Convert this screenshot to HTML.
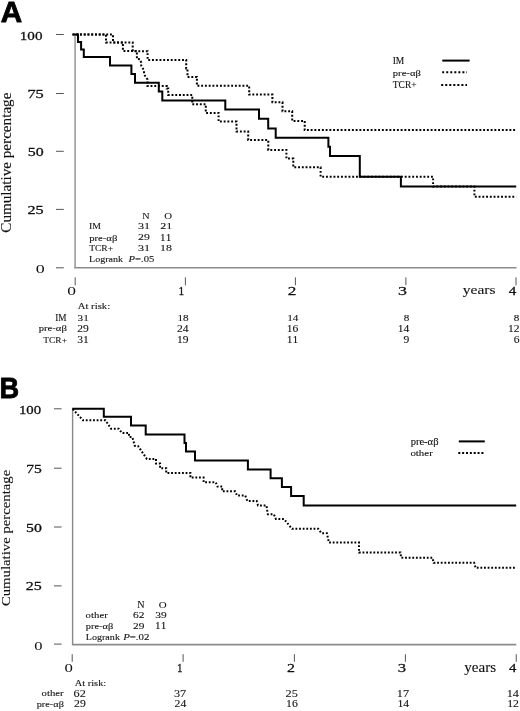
<!DOCTYPE html>
<html><head><meta charset="utf-8"><style>
html,body{margin:0;padding:0;background:#fff;width:520px;height:711px;overflow:hidden}
svg{display:block;font-kerning:none;will-change:transform}
text{font-kerning:none;stroke:#111;stroke-width:0.1px;paint-order:stroke}
</style></head><body>
<svg width="520" height="711" viewBox="0 0 520 711">
<rect width="520" height="711" fill="#fff"/>
<text transform="translate(0.86 21.80) scale(1.0102 1)" font-size="29.361" font-family="Liberation Sans" font-weight="bold" fill="#000" style="stroke:#000;stroke-width:0.80px;stroke-linejoin:round">A</text>
<text transform="translate(19.77 39.67) scale(1.1608 1)" font-size="13.041" font-family="Liberation Serif" font-style="normal" fill="#111" style="stroke-width:0.28px">100</text>
<text transform="translate(27.42 97.88) scale(1.3220 1)" font-size="12.339" font-family="Liberation Serif" font-style="normal" fill="#111" style="stroke-width:0.28px">75</text>
<text transform="translate(27.77 156.18) scale(1.3273 1)" font-size="12.003" font-family="Liberation Serif" font-style="normal" fill="#111" style="stroke-width:0.28px">50</text>
<text transform="translate(27.49 214.28) scale(1.3395 1)" font-size="12.130" font-family="Liberation Serif" font-style="normal" fill="#111" style="stroke-width:0.28px">25</text>
<text transform="translate(35.72 272.78) scale(1.4236 1)" font-size="12.596" font-family="Liberation Serif" font-style="normal" fill="#111" style="stroke-width:0.01px">0</text>
<text transform="translate(10.90 232.72) rotate(-90) scale(1.1078 1)" font-size="13.692" font-family="Liberation Serif" fill="#111">Cumulative percentage</text>
<line x1="75.10" y1="34.50" x2="75.10" y2="267.70" stroke="#a6a6a6" stroke-width="1.80"/>
<line x1="74.20" y1="267.70" x2="516.60" y2="267.70" stroke="#8c8c8c" stroke-width="1.60"/>
<line x1="56.00" y1="34.50" x2="63.80" y2="34.50" stroke="#555" stroke-width="1.00"/>
<line x1="56.00" y1="93.50" x2="63.80" y2="93.50" stroke="#555" stroke-width="1.00"/>
<line x1="56.00" y1="151.30" x2="63.80" y2="151.30" stroke="#555" stroke-width="1.00"/>
<line x1="56.00" y1="209.40" x2="63.80" y2="209.40" stroke="#555" stroke-width="1.00"/>
<line x1="56.00" y1="267.80" x2="63.80" y2="267.80" stroke="#555" stroke-width="1.00"/>
<line x1="75.20" y1="277.40" x2="75.20" y2="285.30" stroke="#555" stroke-width="1.00"/>
<line x1="185.40" y1="277.40" x2="185.40" y2="285.30" stroke="#555" stroke-width="1.00"/>
<line x1="295.40" y1="277.40" x2="295.40" y2="285.30" stroke="#555" stroke-width="1.00"/>
<line x1="405.90" y1="277.40" x2="405.90" y2="285.30" stroke="#555" stroke-width="1.00"/>
<line x1="516.00" y1="277.40" x2="516.00" y2="285.30" stroke="#555" stroke-width="1.00"/>
<text transform="translate(67.14 295.27) scale(1.3389 1)" font-size="13.041" font-family="Liberation Serif" font-style="normal" fill="#111" style="stroke-width:0.01px">0</text>
<text transform="translate(178.60 295.20) scale(0.9260 1)" font-size="12.270" font-family="Liberation Serif" font-style="normal" fill="#111" style="stroke-width:0.28px">1</text>
<text transform="translate(287.74 295.20) scale(1.3099 1)" font-size="13.140" font-family="Liberation Serif" font-style="normal" fill="#111" style="stroke-width:0.28px">2</text>
<text transform="translate(397.94 295.37) scale(1.3524 1)" font-size="13.247" font-family="Liberation Serif" font-style="normal" fill="#111" style="stroke-width:0.28px">3</text>
<text transform="translate(508.71 295.30) scale(1.2872 1)" font-size="11.699" font-family="Liberation Serif" font-style="normal" fill="#111" style="stroke-width:0.28px">4</text>
<text transform="translate(462.81 294.30) scale(1.2190 1)" font-size="12.734" font-family="Liberation Serif" font-style="normal" fill="#111">years</text>
<text transform="translate(392.66 63.70) scale(1.0043 1)" font-size="9.469" font-family="Liberation Serif" font-style="normal" fill="#111">IM</text>
<text transform="translate(392.83 75.60) scale(1.3332 1)" font-size="7.953" font-family="Liberation Serif" font-style="normal" fill="#111">pre-αβ</text>
<text transform="translate(392.83 87.70) scale(1.0102 1)" font-size="9.364" font-family="Liberation Serif" font-style="normal" fill="#111">TCR+</text>
<line x1="442.30" y1="60.60" x2="469.60" y2="60.60" stroke="#000" stroke-width="2.00"/>
<line x1="442.2" y1="72.2" x2="467" y2="72.2" stroke="#000" stroke-width="2" stroke-dasharray="2 2.04"/>
<line x1="441.2" y1="84.9" x2="467" y2="84.9" stroke="#000" stroke-width="2" stroke-dasharray="2 2.04"/>
<text transform="translate(142.31 218.80) scale(1.1069 1)" font-size="9.163" font-family="Liberation Serif" font-style="normal" fill="#111">N</text>
<text transform="translate(164.16 218.80) scale(1.1895 1)" font-size="9.062" font-family="Liberation Serif" font-style="normal" fill="#111">O</text>
<text transform="translate(88.95 229.20) scale(1.0661 1)" font-size="9.163" font-family="Liberation Serif" font-style="normal" fill="#111">IM</text>
<text transform="translate(138.02 229.21) scale(1.3334 1)" font-size="9.079" font-family="Liberation Serif" font-style="normal" fill="#111">31</text>
<text transform="translate(160.28 229.30) scale(1.2962 1)" font-size="9.213" font-family="Liberation Serif" font-style="normal" fill="#111">21</text>
<text transform="translate(89.23 240.80) scale(1.2284 1)" font-size="8.664" font-family="Liberation Serif" font-style="normal" fill="#111">pre-αβ</text>
<text transform="translate(138.08 240.41) scale(1.2790 1)" font-size="9.228" font-family="Liberation Serif" font-style="normal" fill="#111">29</text>
<text transform="translate(160.12 240.50) scale(1.1872 1)" font-size="9.392" font-family="Liberation Serif" font-style="normal" fill="#111">11</text>
<text transform="translate(89.13 250.90) scale(1.0754 1)" font-size="8.911" font-family="Liberation Serif" font-style="normal" fill="#111">TCR+</text>
<text transform="translate(138.02 250.91) scale(1.3557 1)" font-size="8.930" font-family="Liberation Serif" font-style="normal" fill="#111">31</text>
<text transform="translate(160.05 250.91) scale(1.3382 1)" font-size="8.891" font-family="Liberation Serif" font-style="normal" fill="#111">18</text>
<text transform="translate(89.01 261.80) scale(1.2038 1)" font-size="8.359" font-family="Liberation Serif" font-style="normal" fill="#111">Logrank</text>
<text transform="translate(128.56 261.80) scale(1.2565 1)" font-size="8.421" font-family="Liberation Serif" font-style="italic" fill="#111">P<tspan font-family="Liberation Serif" font-style="normal">=.05</tspan></text>
<text transform="translate(77.69 309.30) scale(1.2442 1)" font-size="8.647" font-family="Liberation Serif" font-style="normal" fill="#111">At risk:</text>
<text transform="translate(55.27 320.70) scale(0.9929 1)" font-size="9.316" font-family="Liberation Serif" font-style="normal" fill="#111">IM</text>
<text transform="translate(38.63 331.20) scale(1.2374 1)" font-size="8.664" font-family="Liberation Serif" font-style="normal" fill="#111">pre-αβ</text>
<text transform="translate(43.33 342.60) scale(1.0394 1)" font-size="9.062" font-family="Liberation Serif" font-style="normal" fill="#111">TCR+</text>
<text transform="translate(77.62 320.60) scale(1.2300 1)" font-size="9.063" font-family="Liberation Serif" fill="#111">31</text>
<text transform="translate(177.38 320.60) scale(1.2300 1)" font-size="9.063" font-family="Liberation Serif" fill="#111">18</text>
<text transform="translate(287.13 320.60) scale(1.2300 1)" font-size="9.063" font-family="Liberation Serif" fill="#111">14</text>
<text transform="translate(403.65 320.60) scale(1.2300 1)" font-size="9.063" font-family="Liberation Serif" fill="#111">8</text>
<text transform="translate(513.85 320.60) scale(1.2300 1)" font-size="9.063" font-family="Liberation Serif" fill="#111">8</text>
<text transform="translate(77.27 331.90) scale(1.2300 1)" font-size="9.366" font-family="Liberation Serif" fill="#111">29</text>
<text transform="translate(177.02 331.90) scale(1.2300 1)" font-size="9.366" font-family="Liberation Serif" fill="#111">24</text>
<text transform="translate(286.76 331.90) scale(1.2300 1)" font-size="9.366" font-family="Liberation Serif" fill="#111">16</text>
<text transform="translate(397.72 331.90) scale(1.2300 1)" font-size="9.366" font-family="Liberation Serif" fill="#111">14</text>
<text transform="translate(507.92 331.90) scale(1.2300 1)" font-size="9.366" font-family="Liberation Serif" fill="#111">12</text>
<text transform="translate(77.27 343.20) scale(1.2300 1)" font-size="9.366" font-family="Liberation Serif" fill="#111">31</text>
<text transform="translate(177.02 343.20) scale(1.2300 1)" font-size="9.366" font-family="Liberation Serif" fill="#111">19</text>
<text transform="translate(286.76 343.20) scale(1.2300 1)" font-size="9.366" font-family="Liberation Serif" fill="#111">11</text>
<text transform="translate(403.48 343.20) scale(1.2300 1)" font-size="9.366" font-family="Liberation Serif" fill="#111">9</text>
<text transform="translate(513.68 343.20) scale(1.2300 1)" font-size="9.366" font-family="Liberation Serif" fill="#111">6</text>
<path d="M74.20 34.50 L78.00 34.50 L78.00 42.00 L81.10 42.00 L81.10 49.60 L83.80 49.60 L83.80 56.90 L110.00 56.90 L110.00 65.60 L131.40 65.60 L131.40 74.10 L135.00 74.10 L135.00 82.80 L158.80 82.80 L158.80 91.60 L162.30 91.60 L162.30 100.50 L225.30 100.50 L225.30 109.60 L259.00 109.60 L259.00 118.80 L268.20 118.80 L268.20 128.40 L275.70 128.40 L275.70 137.70 L328.40 137.70 L328.40 146.80 L330.00 146.80 L330.00 156.00 L359.80 156.00 L359.80 176.80 L400.90 176.80 L400.90 186.50 L516.20 186.50" fill="none" stroke="#000" stroke-width="2.00" stroke-linejoin="miter" stroke-linecap="butt"/>
<path d="M72.50 34.50 L113.00 34.50 L113.00 42.40 L132.70 42.40 L132.70 51.20 L147.60 51.20 L147.60 60.00 L186.20 60.00 L186.20 68.50 L187.50 68.50 L187.50 76.90 L196.90 76.90 L196.90 85.80 L249.20 85.80 L249.20 94.60 L272.40 94.60 L272.40 102.30 L282.50 102.30 L282.50 111.30 L292.20 111.30 L292.20 120.90 L304.70 120.90 L304.70 130.10 L516.20 130.10" fill="none" stroke="#000" stroke-width="2.00" stroke-linejoin="miter" stroke-linecap="butt" stroke-dasharray="1.9 1.85"/>
<path d="M72.50 34.50 L106.00 34.50 L106.00 42.40 L122.90 42.40 L122.90 51.00 L136.90 51.00 L136.90 59.00 L140.00 59.30 L141.20 62.60 L141.20 65.60 L144.00 70.50 L144.00 74.20 L147.50 79.50 L147.50 86.00 L147.50 86.00 L166.80 86.00 L166.80 88.50 L168.20 88.50 L168.20 95.00 L192.30 95.00 L192.30 104.20 L205.80 104.20 L205.80 112.90 L218.60 112.90 L218.60 121.60 L236.50 121.60 L236.50 131.60 L248.20 131.60 L248.20 140.10 L268.30 140.10 L268.30 149.90 L286.40 149.90 L286.40 158.50 L293.30 158.50 L293.30 167.20 L320.60 167.20 L320.60 176.80 L433.10 176.80 L433.10 186.50 L474.40 186.50 L474.40 196.70 L516.20 196.70" fill="none" stroke="#000" stroke-width="2.00" stroke-linejoin="miter" stroke-linecap="butt" stroke-dasharray="1.9 1.85"/>
<text transform="translate(-0.42 397.80) scale(0.9225 1)" font-size="29.506" font-family="Liberation Sans" font-weight="bold" fill="#000" style="stroke:#000;stroke-width:0.80px;stroke-linejoin:round">B</text>
<text transform="translate(18.90 413.88) scale(1.1593 1)" font-size="12.744" font-family="Liberation Serif" font-style="normal" fill="#111" style="stroke-width:0.28px">100</text>
<text transform="translate(26.17 472.98) scale(1.2229 1)" font-size="12.791" font-family="Liberation Serif" font-style="normal" fill="#111" style="stroke-width:0.28px">75</text>
<text transform="translate(25.98 531.68) scale(1.3181 1)" font-size="12.003" font-family="Liberation Serif" font-style="normal" fill="#111" style="stroke-width:0.28px">50</text>
<text transform="translate(25.80 590.48) scale(1.2822 1)" font-size="12.502" font-family="Liberation Serif" font-style="normal" fill="#111" style="stroke-width:0.28px">25</text>
<text transform="translate(34.17 649.78) scale(1.3112 1)" font-size="12.596" font-family="Liberation Serif" font-style="normal" fill="#111" style="stroke-width:0.01px">0</text>
<text transform="translate(9.80 606.11) rotate(-90) scale(1.1633 1)" font-size="12.683" font-family="Liberation Serif" fill="#111">Cumulative percentage</text>
<line x1="72.60" y1="408.80" x2="72.60" y2="644.60" stroke="#888" stroke-width="1.40"/>
<line x1="71.90" y1="644.60" x2="516.30" y2="644.60" stroke="#8c8c8c" stroke-width="1.60"/>
<line x1="54.00" y1="408.80" x2="61.60" y2="408.80" stroke="#555" stroke-width="1.00"/>
<line x1="54.00" y1="468.20" x2="61.60" y2="468.20" stroke="#555" stroke-width="1.00"/>
<line x1="54.00" y1="527.00" x2="61.60" y2="527.00" stroke="#555" stroke-width="1.00"/>
<line x1="54.00" y1="585.90" x2="61.60" y2="585.90" stroke="#555" stroke-width="1.00"/>
<line x1="54.00" y1="644.10" x2="61.60" y2="644.10" stroke="#555" stroke-width="1.00"/>
<line x1="72.20" y1="654.20" x2="72.20" y2="661.80" stroke="#555" stroke-width="1.00"/>
<line x1="183.10" y1="654.20" x2="183.10" y2="661.80" stroke="#555" stroke-width="1.00"/>
<line x1="294.40" y1="654.20" x2="294.40" y2="661.80" stroke="#555" stroke-width="1.00"/>
<line x1="405.40" y1="654.20" x2="405.40" y2="661.80" stroke="#555" stroke-width="1.00"/>
<line x1="516.25" y1="654.20" x2="516.25" y2="661.80" stroke="#555" stroke-width="1.00"/>
<text transform="translate(64.46 671.58) scale(1.3956 1)" font-size="12.003" font-family="Liberation Serif" font-style="normal" fill="#111" style="stroke-width:0.01px">0</text>
<text transform="translate(177.03 671.80) scale(0.8706 1)" font-size="12.724" font-family="Liberation Serif" font-style="normal" fill="#111" style="stroke-width:0.28px">1</text>
<text transform="translate(287.00 671.80) scale(1.2584 1)" font-size="12.687" font-family="Liberation Serif" font-style="normal" fill="#111" style="stroke-width:0.28px">2</text>
<text transform="translate(397.70 671.68) scale(1.3360 1)" font-size="12.502" font-family="Liberation Serif" font-style="normal" fill="#111" style="stroke-width:0.28px">3</text>
<text transform="translate(509.11 671.50) scale(1.2278 1)" font-size="12.002" font-family="Liberation Serif" font-style="normal" fill="#111" style="stroke-width:0.28px">4</text>
<text transform="translate(464.22 671.50) scale(1.0805 1)" font-size="14.007" font-family="Liberation Serif" font-style="normal" fill="#111">years</text>
<text transform="translate(410.63 445.40) scale(1.1271 1)" font-size="9.374" font-family="Liberation Serif" font-style="normal" fill="#111">pre-αβ</text>
<text transform="translate(410.38 455.80) scale(1.3048 1)" font-size="8.359" font-family="Liberation Serif" font-style="normal" fill="#111">other</text>
<line x1="458.80" y1="441.40" x2="484.80" y2="441.40" stroke="#000" stroke-width="2.00"/>
<line x1="458.3" y1="452.9" x2="483.5" y2="452.9" stroke="#000" stroke-width="2" stroke-dasharray="2 1.85"/>
<text transform="translate(137.31 607.90) scale(1.0888 1)" font-size="9.316" font-family="Liberation Serif" font-style="normal" fill="#111">N</text>
<text transform="translate(158.75 607.90) scale(1.1869 1)" font-size="9.213" font-family="Liberation Serif" font-style="normal" fill="#111">O</text>
<text transform="translate(85.59 618.40) scale(1.1717 1)" font-size="9.224" font-family="Liberation Serif" font-style="normal" fill="#111">other</text>
<text transform="translate(133.10 618.41) scale(1.2497 1)" font-size="9.228" font-family="Liberation Serif" font-style="normal" fill="#111">62</text>
<text transform="translate(155.25 618.41) scale(1.2369 1)" font-size="9.228" font-family="Liberation Serif" font-style="normal" fill="#111">39</text>
<text transform="translate(85.83 628.80) scale(1.1635 1)" font-size="8.948" font-family="Liberation Serif" font-style="normal" fill="#111">pre-αβ</text>
<text transform="translate(133.10 628.71) scale(1.2317 1)" font-size="9.228" font-family="Liberation Serif" font-style="normal" fill="#111">29</text>
<text transform="translate(155.12 628.80) scale(1.1872 1)" font-size="9.392" font-family="Liberation Serif" font-style="normal" fill="#111">11</text>
<text transform="translate(85.71 639.50) scale(1.1706 1)" font-size="8.647" font-family="Liberation Serif" font-style="normal" fill="#111">Logrank</text>
<text transform="translate(123.16 639.50) scale(1.2408 1)" font-size="8.721" font-family="Liberation Serif" font-style="italic" fill="#111">P<tspan font-family="Liberation Serif" font-style="normal">=.02</tspan></text>
<text transform="translate(74.80 685.60) scale(1.2641 1)" font-size="8.215" font-family="Liberation Serif" font-style="normal" fill="#111">At risk:</text>
<text transform="translate(41.59 696.40) scale(1.1609 1)" font-size="9.224" font-family="Liberation Serif" font-style="normal" fill="#111">other</text>
<text transform="translate(36.73 706.80) scale(1.1691 1)" font-size="8.806" font-family="Liberation Serif" font-style="normal" fill="#111">pre-αβ</text>
<text transform="translate(73.51 696.60) scale(1.2300 1)" font-size="9.970" font-family="Liberation Serif" fill="#111">62</text>
<text transform="translate(173.99 696.60) scale(1.2300 1)" font-size="9.970" font-family="Liberation Serif" fill="#111">37</text>
<text transform="translate(285.52 696.60) scale(1.2300 1)" font-size="9.970" font-family="Liberation Serif" fill="#111">25</text>
<text transform="translate(396.84 696.60) scale(1.2300 1)" font-size="9.970" font-family="Liberation Serif" fill="#111">17</text>
<text transform="translate(506.68 696.60) scale(1.2300 1)" font-size="9.970" font-family="Liberation Serif" fill="#111">14</text>
<text transform="translate(74.04 707.30) scale(1.2300 1)" font-size="9.517" font-family="Liberation Serif" fill="#111">29</text>
<text transform="translate(174.53 707.30) scale(1.2300 1)" font-size="9.517" font-family="Liberation Serif" fill="#111">24</text>
<text transform="translate(286.05 707.30) scale(1.2300 1)" font-size="9.517" font-family="Liberation Serif" fill="#111">16</text>
<text transform="translate(397.38 707.30) scale(1.2300 1)" font-size="9.517" font-family="Liberation Serif" fill="#111">14</text>
<text transform="translate(507.23 707.30) scale(1.2300 1)" font-size="9.517" font-family="Liberation Serif" fill="#111">12</text>
<path d="M72.30 408.80 L103.80 408.80 L103.80 416.80 L131.00 416.80 L131.00 425.40 L145.70 425.40 L145.70 434.40 L184.50 434.40 L184.50 443.10 L186.00 443.10 L186.00 451.60 L195.00 451.60 L195.00 460.60 L247.90 460.60 L247.90 469.50 L270.60 469.50 L270.60 478.30 L281.90 478.30 L281.90 486.90 L291.10 486.90 L291.10 496.10 L303.70 496.10 L303.70 505.50 L516.20 505.50" fill="none" stroke="#000" stroke-width="2.00" stroke-linejoin="miter" stroke-linecap="butt"/>
<path d="M72.70 409.00 L83.00 420.30 L105.50 420.30 L111.00 428.70 L118.80 428.70 L121.90 432.90 L128.80 432.90 L129.20 437.10 L132.30 437.10 L134.80 445.80 L138.10 446.10 L146.90 459.00 L156.00 459.00 L156.00 463.50 L160.10 463.50 L160.10 468.20 L166.20 468.20 L166.20 472.90 L190.40 472.90 L190.40 477.60 L203.60 477.60 L203.60 482.30 L215.80 482.30 L217.50 486.60 L222.20 486.60 L222.20 491.30 L235.20 491.30 L237.00 495.60 L245.30 495.60 L247.30 501.00 L256.70 501.00 L258.00 505.40 L266.40 505.40 L267.80 514.20 L273.80 514.20 L275.90 518.90 L283.90 518.90 L292.00 528.80 L318.20 528.80 L321.50 533.20 L326.90 533.20 L328.90 542.60 L359.00 542.60 L359.00 552.60 L400.50 552.60 L401.10 557.70 L432.50 557.70 L433.60 562.80 L474.20 562.80 L475.60 567.80 L516.20 567.80" fill="none" stroke="#000" stroke-width="2.00" stroke-linejoin="miter" stroke-linecap="butt" stroke-dasharray="1.82 1.8"/>
</svg>
</body></html>
